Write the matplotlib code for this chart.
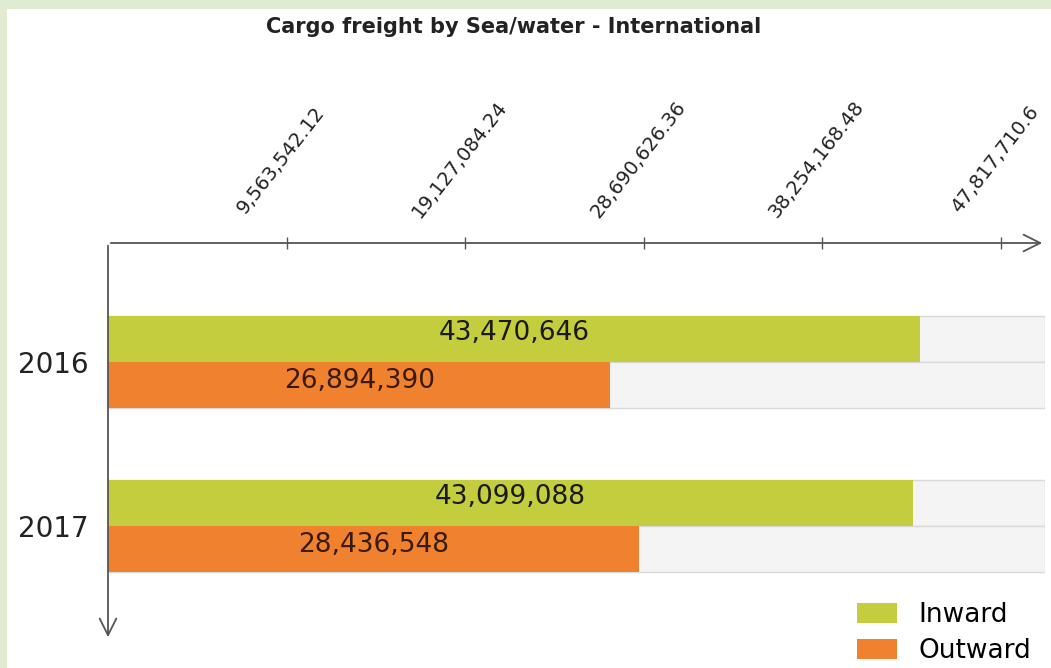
import matplotlib.pyplot as plt
from matplotlib.patches import Rectangle, Patch
import matplotlib.transforms as mtransforms

# Datos
years = ['2016', '2017']
inward = [43470646, 43099088]
outward = [26894390, 28436548]
tick_values = [9563542.12, 19127084.24, 28690626.36, 38254168.48, 47817710.6]
tick_labels = ['9,563,542.12', '19,127,084.24', '28,690,626.36', '38,254,168.48', '47,817,710.6']
x_max = 50170000

green = '#c3cd3e'
orange = '#f0812f'
W, H = 1051, 668

fig = plt.figure(figsize=(W / 100, H / 100), dpi=100)
fig.patch.set_facecolor('#e1ebd2')
# panel blanco
fig.patches.append(Rectangle((7 / W, 0), 1 - 7 / W, 1 - 9 / H, transform=fig.transFigure,
                             facecolor='white', edgecolor='none', zorder=-5))

fig.text(514 / W, 1 - 27 / H, 'Cargo freight by Sea/water - International', ha='center', va='center',
         fontsize=15, fontweight='bold', family='DejaVu Sans', color='#222222')

ax = fig.add_axes([108 / W, 1 - 640 / H, (1045 - 108) / W, (640 - 243) / H])
ax.set_facecolor('none')
ax.set_zorder(2)
for s in ax.spines.values():
    s.set_visible(False)

pos = list(range(len(years)))
bh = 0.28
ax.set_xlim(0, x_max)
ax.set_ylim(1.695, -0.726)

# pistas grises
for p in pos:
    for off in (-bh / 2, bh / 2):
        ax.barh(p + off, x_max, height=bh, color='#f4f4f4', edgecolor='#d9d9d9', lw=1, zorder=1)

ax.barh([p - bh / 2 for p in pos], inward, height=bh, color=green, zorder=2)
ax.barh([p + bh / 2 for p in pos], outward, height=bh, color=orange, zorder=2)

for p, v in zip(pos, inward):
    ax.text(v / 2, p - bh / 2 - 0.035, f'{v:,}', ha='center', va='center', fontsize=19,
            color='#1a1a1a', zorder=3)
for p, v in zip(pos, outward):
    ax.text(v / 2, p + bh / 2 - 0.025, f'{v:,}', ha='center', va='center', fontsize=19,
            color='#3a1a0a', zorder=3)

# ejes con flechas
ax.annotate('', xy=(1, 1), xytext=(0, 1), xycoords='axes fraction',
            arrowprops=dict(arrowstyle='->', lw=1.3, color='#555555', mutation_scale=30))
ax.annotate('', xy=(0, 0.0), xytext=(0, 1), xycoords='axes fraction',
            arrowprops=dict(arrowstyle='->', lw=1.3, color='#555555', mutation_scale=30))

ax.xaxis.tick_top()
ax.set_xticks(tick_values)
ax.set_xticklabels([])
ax.tick_params(axis='x', direction='inout', length=9, width=1, color='#555555')

trans = mtransforms.blended_transform_factory(ax.transData, ax.transAxes)
for v, lab in zip(tick_values, tick_labels):
    ax.annotate(lab, xy=(v, 1), xycoords=trans, xytext=(-4, 60), textcoords='offset points',
                ha='center', va='center', rotation=52, rotation_mode='anchor',
                fontsize=14, color='#222222')

ax.set_yticks(pos)
ax.set_yticklabels(years, fontsize=20, color='#222222')
ax.tick_params(axis='y', length=0, pad=14)

handles = [Patch(facecolor=green), Patch(facecolor=orange)]
fig.legend(handles, ['Inward', 'Outward'], loc='upper left',
           bbox_to_anchor=(857 / W, 1 - 602 / H), bbox_transform=fig.transFigure,
           frameon=False, fontsize=19, handlelength=1.52, handleheight=0.76,
           handletextpad=0.8, labelspacing=0.38, borderpad=0, borderaxespad=0)

fig.savefig('out.png', dpi=100, facecolor=fig.get_facecolor())
